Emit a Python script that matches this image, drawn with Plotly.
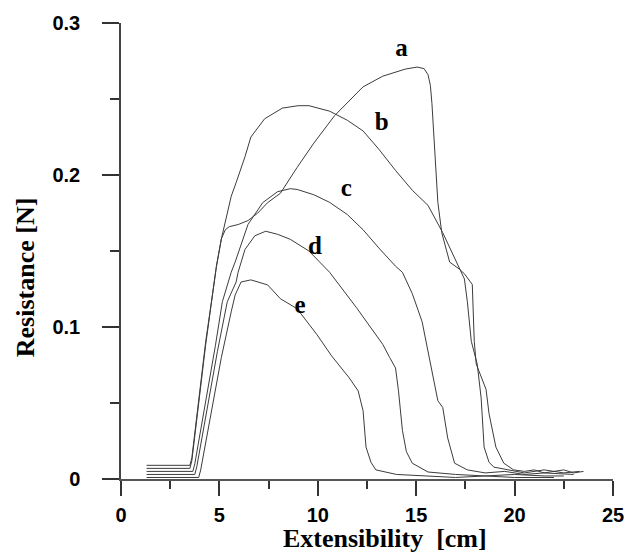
import plotly.graph_objects as go

# ---- data (Extensibility [cm], Resistance [N]) ----
a_x = [1.3, 2.5, 3.5, 3.6, 4.0, 4.3, 4.6, 4.85, 5.1, 5.3, 5.5, 5.95, 6.45, 6.95, 7.45, 8.1,
       8.95, 9.8, 10.85, 12.3, 13.3, 14.45, 15.05, 15.4, 15.6, 15.72, 15.8, 15.95, 16.1,
       16.3, 16.7, 17.2, 17.45, 17.85, 17.95, 18.05, 18.55, 18.7, 19.05, 19.45, 19.95,
       20.5, 21.0, 21.5, 22.0, 22.5, 23.0, 23.5]
a_y = [0.009, 0.009, 0.009, 0.014, 0.058, 0.09, 0.117, 0.14, 0.158, 0.164, 0.166, 0.1674,
       0.170, 0.175, 0.1818, 0.188, 0.205, 0.221, 0.239, 0.258, 0.265, 0.2697, 0.271, 0.270,
       0.266, 0.259, 0.247, 0.214, 0.182, 0.162, 0.1427, 0.138, 0.135, 0.128, 0.0906,
       0.0756, 0.059, 0.043, 0.021, 0.0104, 0.006, 0.005, 0.006, 0.004, 0.005, 0.006,
       0.004, 0.005]

b_x = [1.3, 2.5, 3.5, 3.6, 4.0, 4.3, 4.6, 4.85, 5.1, 5.3, 5.6, 5.85, 6.3, 6.6, 7.3, 8.2,
       9.0, 9.55, 10.6, 11.5, 12.3, 13.1, 13.95, 14.8, 15.6, 16.35, 17.1, 17.45, 17.6,
       17.8, 18.1, 18.3, 18.45, 18.7, 18.95, 19.6, 20.5, 21.5, 22.5, 23.3]
b_y = [0.007, 0.007, 0.007, 0.012, 0.056, 0.088, 0.1166, 0.14, 0.158, 0.169, 0.186, 0.195,
       0.212, 0.225, 0.237, 0.244, 0.2456, 0.2456, 0.242, 0.236, 0.229, 0.217, 0.203, 0.19,
       0.18, 0.162, 0.1407, 0.1316, 0.1166, 0.0906, 0.0756, 0.0534, 0.021, 0.011, 0.0078,
       0.006, 0.004, 0.006, 0.004, 0.005]

c_x = [1.3, 2.5, 3.65, 3.75, 4.3, 4.8, 5.15, 5.6, 5.8, 6.45, 7.2, 7.95, 8.6, 8.95, 9.8,
       10.6, 11.5, 12.3, 13.1, 13.95, 14.3, 14.8, 15.3, 15.6, 15.85, 16.1, 16.35, 16.6,
       16.95, 17.6, 18.5, 19.5, 20.5, 21.5, 23.0]
c_y = [0.005, 0.005, 0.005, 0.01, 0.05, 0.088, 0.1166, 0.136, 0.1427, 0.1674, 0.1818,
       0.189, 0.191, 0.1905, 0.187, 0.182, 0.174, 0.164, 0.152, 0.14, 0.136, 0.122, 0.1035,
       0.084, 0.066, 0.0515, 0.047, 0.027, 0.0104, 0.006, 0.004, 0.005, 0.003, 0.004, 0.003]

d_x = [1.3, 2.5, 3.75, 3.85, 4.4, 4.9, 5.4, 5.85, 5.95, 6.3, 6.8, 7.35, 7.95, 8.6, 9.55,
       10.6, 11.95, 12.7, 13.3, 13.65, 13.95, 14.1, 14.3, 14.5, 14.8, 15.6, 17.0, 18.5,
       20.0, 21.5, 22.5]
d_y = [0.003, 0.003, 0.003, 0.008, 0.048, 0.084, 0.1166, 0.1296, 0.136, 0.151, 0.160,
       0.163, 0.161, 0.1577, 0.150, 0.136, 0.113, 0.099, 0.0886, 0.08, 0.073, 0.058, 0.032,
       0.018, 0.0104, 0.0046, 0.003, 0.002, 0.003, 0.002, 0.002]

e_x = [1.3, 2.5, 3.95, 4.05, 4.6, 5.1, 5.6, 5.8, 6.1, 6.6, 7.45, 8.1, 8.95, 9.95, 10.7,
       11.6, 12.05, 12.3, 12.45, 12.7, 12.95, 14.0, 15.5, 17.0, 18.5, 20.0, 22.0]
e_y = [0.001, 0.001, 0.001, 0.006, 0.045, 0.08, 0.110, 0.121, 0.1296, 0.131, 0.1277,
       0.1186, 0.112, 0.0951, 0.081, 0.0665, 0.058, 0.045, 0.021, 0.011, 0.006, 0.003,
       0.002, 0.001, 0.002, 0.001, 0.001]

curve_names = ["a", "b", "c", "d", "e"]
label_x = [14.25, 13.25, 11.45, 9.85, 9.1]
label_y = [0.2827, 0.234, 0.190, 0.152, 0.113]

x_title = "Extensibility  [cm]"
y_title = "Resistance [N]"
x_ticks = [0, 5, 10, 15, 20, 25]
y_ticks = [0, 0.1, 0.2, 0.3]
y_tick_text = ["0", "0.1", "0.2", "0.3"]

# ---- figure ----
series = [(a_x, a_y), (b_x, b_y), (c_x, c_y), (d_x, d_y), (e_x, e_y)]
fig = go.Figure()
for name, (xs, ys) in zip(curve_names, series):
    fig.add_trace(go.Scatter(x=xs, y=ys, mode="lines", name=name,
                             line=dict(color="#3c3c3c", width=1)))

fig.add_trace(go.Scatter(x=label_x, y=label_y, mode="text", text=curve_names,
                         textposition="middle center",
                         textfont=dict(family="Liberation Serif", size=25,
                                       color="black", weight="bold"),
                         showlegend=False, cliponaxis=False))

tick_font = dict(family="Liberation Sans", size=20, color="black", weight="bold")
title_font = dict(family="Liberation Serif", size=26, color="black", weight="bold")

fig.update_layout(
    width=636, height=555, autosize=False,
    margin=dict(l=121, r=15, t=18, b=76, pad=0),
    plot_bgcolor="white", paper_bgcolor="white",
    showlegend=False,
    xaxis=dict(range=[0, 25], tickvals=x_ticks, ticks="outside", ticklen=15,
               tickwidth=1.5, tickcolor="#333", showline=True, linewidth=2,
               linecolor="#555", showgrid=False, zeroline=False,
               tickfont=tick_font, ticklabelstandoff=2,
               minor=dict(dtick=2.5, tick0=0, ticks="outside", ticklen=8,
                          tickwidth=1.5, tickcolor="#333", showgrid=False)),
    yaxis=dict(range=[0, 0.3], tickvals=y_ticks, ticktext=y_tick_text,
               ticks="outside", ticklen=17, tickwidth=1.5, tickcolor="#333",
               showline=True, linewidth=1.5, linecolor="#444", showgrid=False,
               zeroline=False, tickfont=tick_font, ticklabelstandoff=18,
               minor=dict(dtick=0.05, tick0=0, ticks="outside", ticklen=9,
                          tickwidth=1.5, tickcolor="#333", showgrid=False)),
    annotations=[
        dict(text=x_title, xref="paper", yref="paper", x=0.536, y=-0.13,
             xanchor="center", yanchor="middle", showarrow=False, font=title_font),
        dict(text=y_title, xref="paper", yref="paper", x=0, y=0.4425,
             xshift=-96, xanchor="center", yanchor="middle", textangle=-90,
             showarrow=False, font=title_font),
    ],
)

fig.write_html(
    "out.html",
    config={"displayModeBar": False},
    post_script="document.body.style.margin='0';document.body.style.padding='0';"
                "document.body.style.overflow='hidden';"
                "document.documentElement.style.overflow='hidden';",
)
